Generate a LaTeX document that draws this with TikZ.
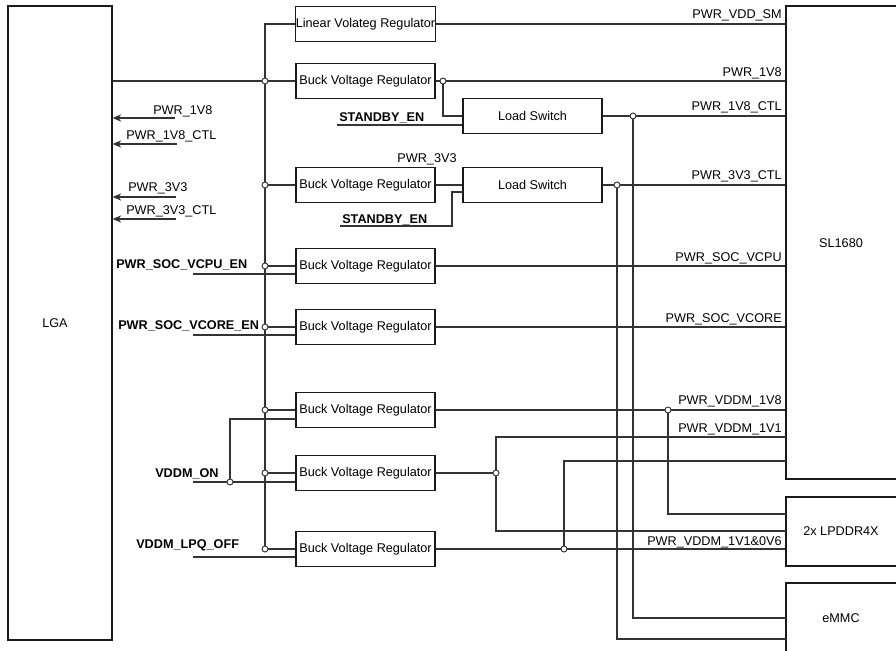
\documentclass[tikz,border=0pt]{standalone}
\usepackage{fontspec}
\setmainfont{Liberation Sans}
\usetikzlibrary{arrows.meta,calc}
\def\PX{0.75pt}
\tikzset{
  ln/.style={draw=black!80, line width=0.85pt},
  blk/.style={draw=black!90, line width=0.9pt, fill=white, inner sep=0pt, font=\fontsize{9.5}{11}\selectfont},
  reg/.style={blk, minimum width=139*\PX, minimum height=34.5*\PX},
  jn/.style={circle, draw=black!80, fill=white, line width=0.7pt, inner sep=0pt, minimum size=6*\PX},
  lbl/.style={inner sep=0pt, font=\fontsize{9.5}{11}\selectfont},
  blbl/.style={inner sep=0pt, font=\fontsize{9.5}{11}\selectfont\bfseries},
  arr/.style={ln, -{Stealth[length=6.5pt, width=5.5pt]}},
}
\begin{document}
\begin{tikzpicture}[x=0.75pt, y=-0.75pt]
\useasboundingbox (0,0) rectangle (896,650);

% main blocks
\node[blk, minimum width=104*\PX, minimum height=634*\PX] (lga) at (60,323) {};
\node[lbl] (lgat) at (55,323) {LGA};
\node[blk, minimum width=114*\PX, minimum height=473*\PX] (sl) at (843,242.5) {};
\node[lbl] (slt) at (841,243) {SL1680};
\node[blk, minimum width=114*\PX, minimum height=69*\PX] (ddr) at (843,531.5) {};
\node[lbl] (ddrt) at (841,531.5) {2x LPDDR4X};
\node[blk, minimum width=114*\PX, minimum height=72*\PX] (emmc) at (843,619) {};
\node[lbl] (emmct) at (841,618) {eMMC};

% regulators
\node[reg, minimum height=35*\PX] (lin) at (365.5,24) {Linear Volateg Regulator};
\node[reg] (b1) at (365.5,81) {Buck Voltage Regulator};
\node[reg] (b2) at (365.5,185) {Buck Voltage Regulator};
\node[reg] (b3) at (365.5,266) {Buck Voltage Regulator};
\node[reg] (b4) at (365.5,327) {Buck Voltage Regulator};
\node[reg] (b5) at (365.5,410) {Buck Voltage Regulator};
\node[reg] (b6) at (365.5,473) {Buck Voltage Regulator};
\node[reg] (b7) at (365.5,549) {Buck Voltage Regulator};
\node[reg] (ls1) at (532.5,116) {Load Switch};
\node[reg] (ls2) at (532.5,185) {Load Switch};

% coordinates
\coordinate (bb) at (265,549);
\coordinate (e3) at (193,274);
\coordinate (e4) at (193,335);
\coordinate (e6) at (193,482);
\coordinate (e7) at (193,557);
\coordinate (jvo) at (230,482);
\coordinate (b5en) at (296,419);
\coordinate (j1o) at (443,81);
\coordinate (sb1) at (337,125);
\coordinate (sb2) at (340,226);
\coordinate (ls2en) at (463,192);
\coordinate (jls1) at (633,116);
\coordinate (jls2) at (617,185);
\coordinate (em1) at (786,618);
\coordinate (em2) at (786,639);
\coordinate (j5) at (668,410);
\coordinate (j6) at (496,473);
\coordinate (j7) at (564,549);
\coordinate (d5) at (786,514);
\coordinate (d6) at (786,531);
\coordinate (s6) at (786,437);
\coordinate (s7) at (786,461);
\coordinate (a1) at (175,118);
\coordinate (a2) at (177,144);
\coordinate (a3) at (176,197);
\coordinate (a4) at (176,219);

% input bus
\draw[ln] (lin.west) -| (bb) -- (b7.west);
\draw[ln] (lga.east |- b1.west) -- (b1.west);
\foreach \b in {b2,b3,b4,b5,b6} \draw[ln] (\b.west -| bb) -- (\b.west);

% enables
\draw[ln] (e3) -- (e3 -| b3.west);
\draw[ln] (e4) -- (e4 -| b4.west);
\draw[ln] (e6) -- (e6 -| b6.west);
\draw[ln] (e7) -- (e7 -| b7.west);
\draw[ln] (jvo) |- (b5en);

% outputs
\draw[ln] (lin.east) -- (lin.east -| sl.west);
\draw[ln] (b1.east) -- (b1.east -| sl.west);
\draw[ln] (j1o) |- (ls1.west);
\draw[ln] (sb1) -- (sb1 -| ls1.west);
\draw[ln] (ls1.east) -- (ls1.east -| sl.west);
\draw[ln] (jls1) |- (em1);
\draw[ln] (b2.east) -- (ls2.west);
\draw[ln] (sb2) -| ($(ls2en)+(-11,0)$) -- (ls2en);
\draw[ln] (ls2.east) -- (ls2.east -| sl.west);
\draw[ln] (jls2) |- (em2);
\draw[ln] (b3.east) -- (b3.east -| sl.west);
\draw[ln] (b4.east) -- (b4.east -| sl.west);
\draw[ln] (b5.east) -- (b5.east -| sl.west);
\draw[ln] (j5) |- (d5);
\draw[ln] (b6.east) -- (j6);
\draw[ln] (s6) -| (j6) |- (d6);
\draw[ln] (b7.east) -- (b7.east -| ddr.west);
\draw[ln] (j7) |- (s7);

% arrows into LGA
\draw[arr] (a1) -- (a1 -| lga.east);
\draw[arr] (a2) -- (a2 -| lga.east);
\draw[arr] (a3) -- (a3 -| lga.east);
\draw[arr] (a4) -- (a4 -| lga.east);

% junctions
\node[jn] (c1) at (b1.west -| bb) {};
\node[jn] (c2) at (b2.west -| bb) {};
\node[jn] (c3) at (b3.west -| bb) {};
\node[jn] (c4) at (b4.west -| bb) {};
\node[jn] (c5) at (b5.west -| bb) {};
\node[jn] (c6) at (b6.west -| bb) {};
\node[jn] (c7) at (bb) {};
\node[jn] (cvo) at (jvo) {};
\node[jn] (c1o) at (j1o) {};
\node[jn] (cls1) at (jls1) {};
\node[jn] (cls2) at (jls2) {};
\node[jn] (cj5) at (j5) {};
\node[jn] (cj6) at (j6) {};
\node[jn] (cj7) at (j7) {};

% right-side labels
\node[lbl, anchor=base east] (t1) at (782,18) {PWR\_VDD\_SM};
\node[lbl, anchor=base east] (t2) at (782,76) {PWR\_1V8};
\node[lbl, anchor=base east] (t3) at (782,110) {PWR\_1V8\_CTL};
\node[lbl, anchor=base east] (t4) at (782,179.5) {PWR\_3V3\_CTL};
\node[lbl, anchor=base east] (t5) at (782,261.5) {PWR\_SOC\_VCPU};
\node[lbl, anchor=base east] (t6) at (782,322.5) {PWR\_SOC\_VCORE};
\node[lbl, anchor=base east] (t7) at (782,404) {PWR\_VDDM\_1V8};
\node[lbl, anchor=base east] (t8) at (782,432.5) {PWR\_VDDM\_1V1};
\node[lbl, anchor=base east] (t9) at (782,545) {PWR\_VDDM\_1V1\&0V6};
\node[lbl, anchor=base] (t10) at (427,162.5) {PWR\_3V3};

% left labels
\node[lbl, anchor=base west] (l1) at (153,114.5) {PWR\_1V8};
\node[lbl, anchor=base west] (l2) at (126,139.5) {PWR\_1V8\_CTL};
\node[lbl, anchor=base west] (l3) at (128,191.5) {PWR\_3V3};
\node[lbl, anchor=base west] (l4) at (126,214.5) {PWR\_3V3\_CTL};
\node[blbl, anchor=base west] (l5) at (116,268.5) {PWR\_SOC\_VCPU\_EN};
\node[blbl, anchor=base west] (l6) at (118,329) {PWR\_SOC\_VCORE\_EN};
\node[blbl, anchor=base west] (l7) at (155,477) {VDDM\_ON};
\node[blbl, anchor=base west] (l8) at (136,548.5) {VDDM\_LPQ\_OFF};
\node[blbl, anchor=base west] (l9) at (339,121.5) {STANDBY\_EN};
\node[blbl, anchor=base west] (l10) at (342,223.5) {STANDBY\_EN};
\end{tikzpicture}
\end{document}
